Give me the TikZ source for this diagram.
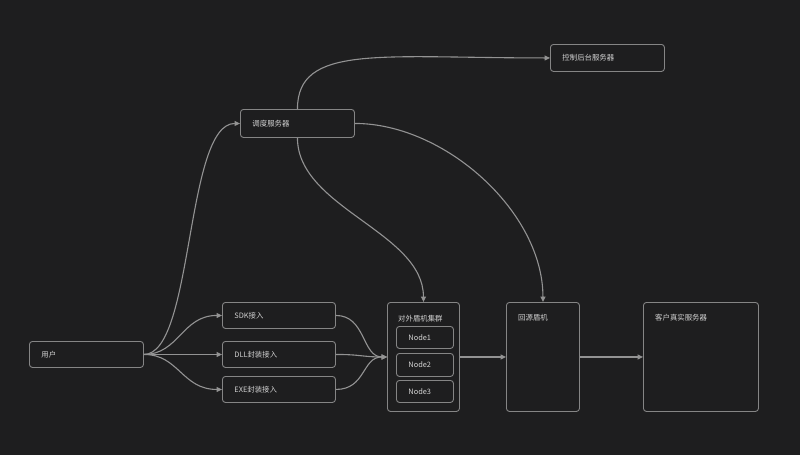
\documentclass[tikz,border=0pt]{standalone}
\usepackage{fontspec}
\setmainfont{Noto Sans CJK SC}
\usetikzlibrary{arrows.meta}
\definecolor{bg}{HTML}{1E1E1F}
\definecolor{edgec}{HTML}{858585}
\definecolor{linec}{HTML}{939393}
\definecolor{txt}{HTML}{D2D2D2}
\begin{document}
\begin{tikzpicture}[x=1pt,y=-1pt,
  box/.style={draw=edgec, line width=0.9pt, rounded corners=3pt, anchor=north west,
    inner xsep=12pt, inner ysep=0pt, align=left, text=txt,
    font=\fontsize{7.4}{9}\selectfont},
  bigbox/.style={draw=edgec, line width=0.9pt, rounded corners=3pt, anchor=north west, inner sep=0pt},
  lbl/.style={anchor=west, inner sep=0pt, text=txt, font=\fontsize{7.4}{9}\selectfont},
  conn/.style={draw=linec, line width=1.1pt, -{Triangle[length=5.5pt,width=5pt]}}]
\fill[bg] (0,0) rectangle (800,455);
\useasboundingbox (0,0) rectangle (800,455);

% small boxes
\node[box, text width=90pt, minimum height=26pt] (user) at (29,341) {用户};
\node[box, text width=89pt, minimum height=26pt] (sdk) at (222,302) {SDK接入};
\node[box, text width=89pt, minimum height=26pt] (dll) at (222,341) {DLL封装接入};
\node[box, text width=89pt, minimum height=26pt] (exe) at (222,376) {EXE封装接入};
\node[box, text width=90pt, minimum height=28pt] (sched) at (240,109) {调度服务器};
\node[box, text width=90pt, minimum height=27pt] (ctrl) at (550,44) {控制后台服务器};

% big boxes
\node[bigbox, minimum width=72pt, minimum height=109pt] (cluster) at (387,302) {};
\node[lbl] (clusterT) at (398,319) {对外盾机集群};
\node[box, text width=33pt, minimum height=22pt] (n1) at (396,326) {Node1};
\node[box, text width=33pt, minimum height=23pt] (n2) at (396,353) {Node2};
\node[box, text width=33pt, minimum height=22pt] (n3) at (396,380) {Node3};

\node[bigbox, minimum width=73pt, minimum height=109pt] (origin) at (506,302) {};
\node[lbl] (originT) at (518,318) {回源盾机};

\node[bigbox, minimum width=115pt, minimum height=109pt] (real) at (643,302) {};
\node[lbl] (realT) at (655,318) {客户真实服务器};

% connectors
\draw[conn] (user.east) .. controls +(35,0) and +(-40,0) .. (sdk.west);
\draw[conn] (user.east) -- (dll.west);
\draw[conn] (user.east) .. controls +(35,0) and +(-40,0) .. (exe.west);
\draw[conn] (user.east) .. controls +(50,0) and +(-55,0) .. (sched.west);

\draw[conn] (sdk.east) .. controls +(30,0) and +(-25,0) .. (cluster.west);
\draw[conn] (dll.east) .. controls +(25,0) and +(-25,0) .. (cluster.west);
\draw[conn] (exe.east) .. controls +(30,0) and +(-25,0) .. (cluster.west);

\draw[conn] (cluster.east) -- (origin.west);
\draw[conn] (origin.east) -- (real.west);

\draw[conn] (sched.south) .. controls +(0,70) and +(0,-70) .. (cluster.north);
\draw[conn] (sched.east) .. controls +(90,0) and +(0,-90) .. (origin.north);
\draw[conn] (sched.north) .. controls +(0,-65) and +(-170,0) .. (ctrl.west);
\end{tikzpicture}
\end{document}
